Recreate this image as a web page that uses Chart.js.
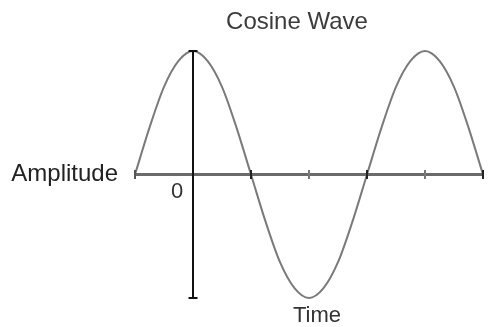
<!DOCTYPE html>
<html>
<head>
<meta charset="utf-8">
<title>Cosine Wave</title>
<script src="https://cdn.jsdelivr.net/npm/chart.js@4.4.1/dist/chart.umd.min.js"></script>
<style>
  html, body { margin: 0; padding: 0; background: #fff; }
  #wave { display: block; }
</style>
</head>
<body>
<canvas id="wave" width="490" height="327"></canvas>
<script>
// time in degrees, sampled every 1/16 of a period
const timeDeg = [-90, -67.5, -45, -22.5, 0, 22.5, 45, 67.5, 90, 112.5, 135, 157.5, 180,
  202.5, 225, 247.5, 270, 292.5, 315, 337.5, 360, 382.5, 405, 427.5, 450];
// amplitude
const amplitude = [0, 0.38, 0.71, 0.92, 1, 0.92, 0.71, 0.38, 0, -0.38, -0.71, -0.92, -1,
  -0.92, -0.71, -0.38, 0, 0.38, 0.71, 0.92, 1, 0.92, 0.71, 0.38, 0];
// marks along the time axis
const tickTimes = [-90, 90, 180, 270, 360, 450];
const tickColors = ['#555', '#222', '#777', '#222', '#777', '#222'];
const zeroLabel = '0';

// axis texts
const labelsPlugin = {
  id: 'waveLabels',
  afterDraw(chart) {
    const ctx = chart.ctx;
    const x = chart.scales.x;
    const y = chart.scales.y;
    const x0 = x.getPixelForValue(0);
    const y0 = y.getPixelForValue(0);
    ctx.save();
    ctx.textBaseline = 'middle';

    ctx.font = '24px "Liberation Sans", Arial, sans-serif';
    ctx.fillStyle = '#3c3c3c';
    ctx.textAlign = 'center';
    ctx.fillText('Cosine Wave', 297, 22);

    ctx.fillStyle = '#222';
    ctx.textAlign = 'right';
    ctx.fillText('Amplitude', chart.chartArea.left - 17, y0);

    ctx.font = '22px "Liberation Sans", Arial, sans-serif';
    ctx.fillStyle = '#333';
    ctx.textAlign = 'center';
    ctx.fillText(zeroLabel, x0 - 16, y0 + 17);
    ctx.fillText('Time', x.getPixelForValue(180) + 8, 316);
    ctx.restore();
  }
};

const ctx = document.getElementById('wave').getContext('2d');
new Chart(ctx, {
  type: 'line',
  data: {
    datasets: [
      {
        // vertical amplitude axis
        data: [{ x: 0, y: 1 }, { x: 0, y: -1 }],
        borderColor: '#111',
        borderWidth: 2,
        pointStyle: 'line',
        pointRadius: 4.5,
        pointBorderColor: '#111',
        pointBorderWidth: 2,
        clip: false,
        order: 0
      },
      {
        // tick marks on the time axis
        data: tickTimes.map(t => ({ x: t, y: 0 })),
        showLine: false,
        pointStyle: 'line',
        pointRotation: 90,
        pointRadius: 4.5,
        pointBorderColor: tickColors,
        pointBorderWidth: 2,
        clip: false,
        order: 1
      },
      {
        // horizontal time axis
        data: [{ x: tickTimes[0], y: 0 }, { x: tickTimes[tickTimes.length - 1], y: 0 }],
        borderColor: '#6a6a6a',
        borderWidth: 3,
        pointRadius: 0,
        clip: false,
        order: 2
      },
      {
        label: 'Cosine',
        data: timeDeg.map((t, i) => ({ x: t, y: amplitude[i] })),
        borderColor: '#7a7a7a',
        borderWidth: 2,
        pointRadius: 0,
        cubicInterpolationMode: 'monotone',
        clip: false,
        order: 3
      }
    ]
  },
  options: {
    responsive: false,
    animation: false,
    layout: { padding: { left: 135, right: 7, top: 51, bottom: 29 } },
    scales: {
      x: { type: 'linear', min: -90, max: 450, display: false },
      y: { min: -1, max: 1, display: false }
    },
    plugins: {
      legend: { display: false },
      tooltip: { enabled: false }
    }
  },
  plugins: [labelsPlugin]
});
</script>
</body>
</html>
